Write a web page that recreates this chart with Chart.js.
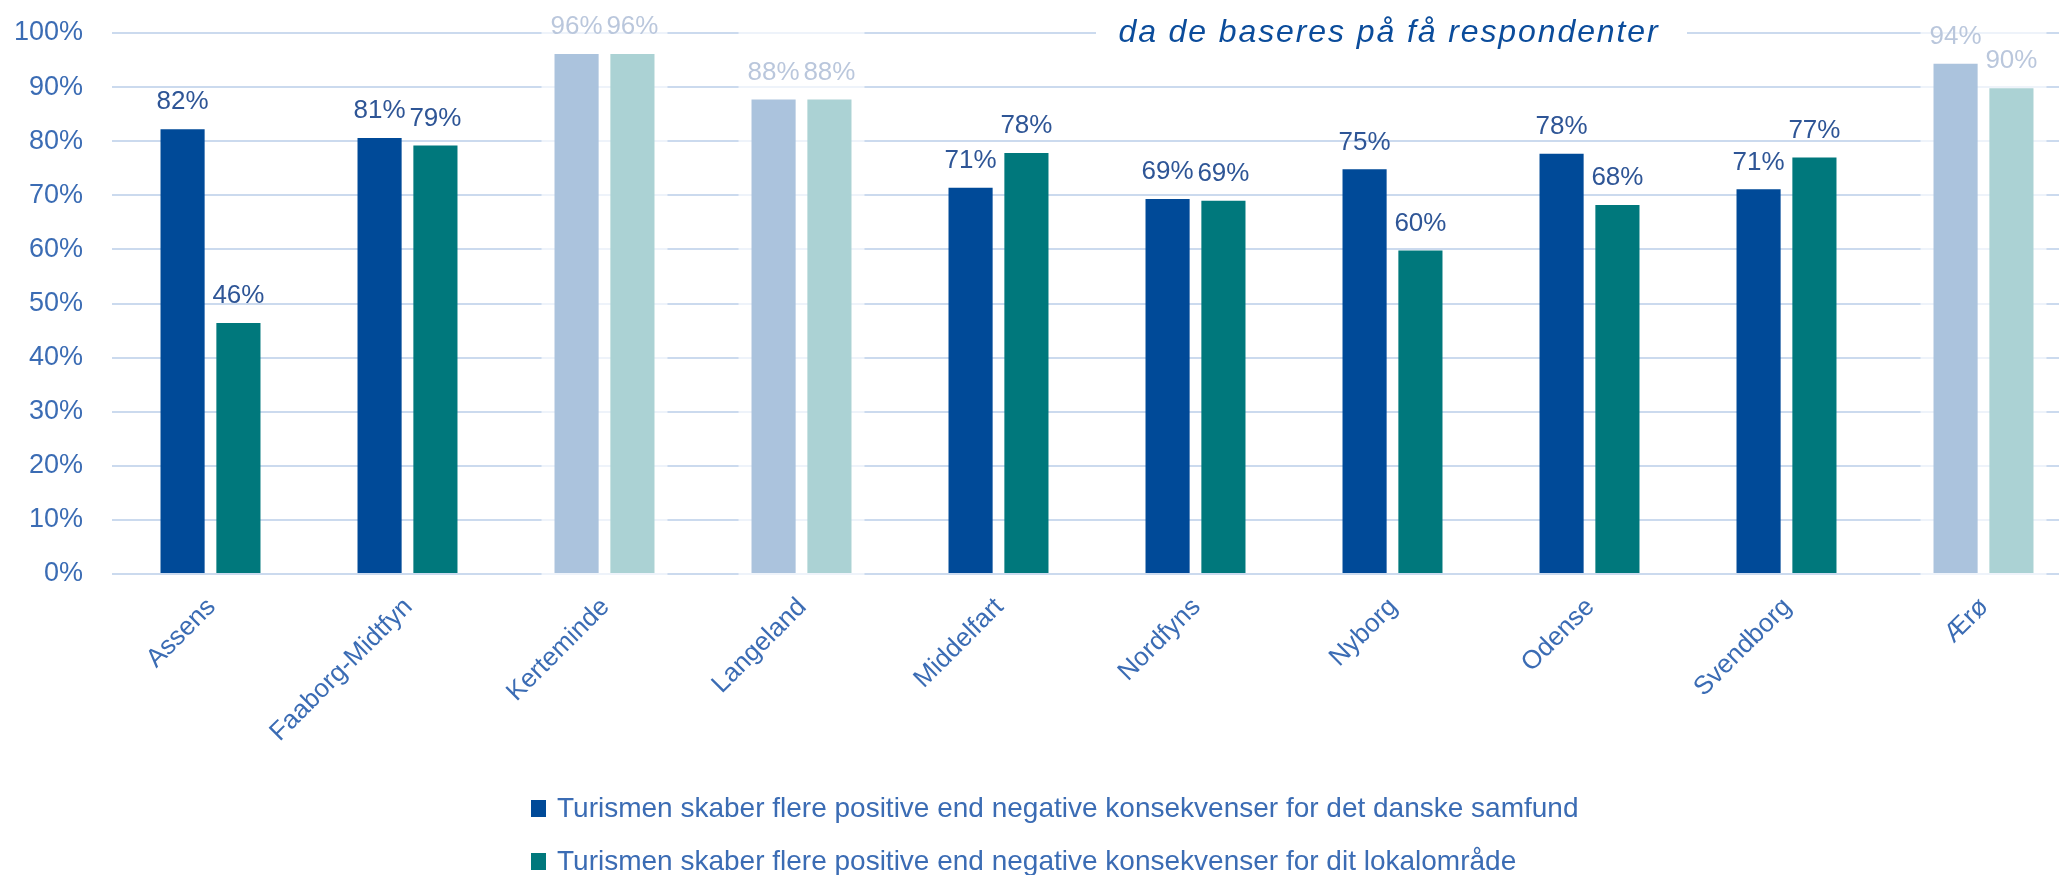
<!DOCTYPE html>
<html>
<head>
<meta charset="utf-8">
<script src="https://cdn.jsdelivr.net/npm/chart.js@4/dist/chart.umd.min.js"></script>
<style>
  html, body { margin: 0; padding: 0; background: #ffffff; overflow: hidden; }
  #wrap { position: relative; width: 2082px; height: 875px; }
</style>
</head>
<body>
<div id="wrap"><canvas id="c"></canvas></div>
<script>
// ---- data ----
const categories = ['Assens', 'Faaborg-Midtfyn', 'Kerteminde', 'Langeland', 'Middelfart', 'Nordfyns', 'Nyborg', 'Odense', 'Svendborg', 'Ærø'];
const seriesNames = [
  'Turismen skaber flere positive end negative konsekvenser for det danske samfund',
  'Turismen skaber flere positive end negative konsekvenser for dit lokalområde'
];
const danskeSamfund = [82.2, 80.6, 96.1, 87.7, 71.4, 69.3, 74.8, 77.7, 71.1, 94.3];
const lokalomraade  = [46.4, 79.2, 96.1, 87.7, 77.8, 69.0, 59.8, 68.2, 77.0, 89.8];
const fadedCategories = ['Kerteminde', 'Langeland', 'Ærø'];
const yTicks = [0, 10, 20, 30, 40, 50, 60, 70, 80, 90, 100];
const noteText = 'da de baseres på få respondenter';

const AXIS_BLUE = '#3b6cb4';
const LABEL_BLUE = '#2e5596';
const FONT = "'Liberation Sans', Arial, sans-serif";

const annotate = {
  id: 'annotate',
  afterDatasetsDraw(chart) {
    const ctx = chart.ctx;
    const area = chart.chartArea;
    // value labels
    ctx.save();
    ctx.font = '26px ' + FONT;
    ctx.fillStyle = LABEL_BLUE;
    ctx.textAlign = 'center';
    ctx.textBaseline = 'middle';
    chart.data.datasets.forEach((ds, i) => {
      chart.getDatasetMeta(i).data.forEach((bar, j) => {
        ctx.fillText(Math.round(ds.data[j]) + '%', bar.x, bar.y - 27);
      });
    });
    ctx.restore();
    // fading overlay for groups with few respondents
    const xs = chart.scales.x;
    ctx.save();
    ctx.fillStyle = 'rgba(255,255,255,0.67)';
    fadedCategories.forEach(name => {
      const idx = categories.indexOf(name);
      const cx = xs.getPixelForValue(idx);
      ctx.fillRect(cx - 63, 0, 126, area.bottom + 4);
    });
    ctx.restore();
    // note box
    ctx.save();
    ctx.fillStyle = '#ffffff';
    ctx.fillRect(1096, 0, 591, 52);
    ctx.font = 'italic 32px ' + FONT;
    ctx.fillStyle = '#0b4c9b';
    ctx.textAlign = 'center';
    ctx.textBaseline = 'alphabetic';
    try { ctx.letterSpacing = '1.9px'; } catch (e) {}
    ctx.fillText(noteText, 1389, 42);
    ctx.restore();
  },
  afterDraw(chart) {
    const ctx = chart.ctx;
    ctx.save();
    ctx.font = '28px ' + FONT;
    ctx.textBaseline = 'middle';
    ctx.textAlign = 'left';
    const rows = [808, 861];
    chart.data.datasets.forEach((ds, i) => {
      ctx.fillStyle = ds.backgroundColor;
      ctx.fillRect(531, rows[i] - 8, 15, 17);
      ctx.fillStyle = AXIS_BLUE;
      ctx.fillText(ds.label, 557, rows[i] + 1);
    });
    ctx.restore();
  }
};

new Chart(document.getElementById('c'), {
  type: 'bar',
  data: {
    labels: categories,
    datasets: [
      { label: seriesNames[0], data: danskeSamfund, backgroundColor: '#004a98' },
      { label: seriesNames[1], data: lokalomraade, backgroundColor: '#00787c' }
    ]
  },
  options: {
    responsive: true,
    maintainAspectRatio: false,
    animation: false,
    events: [],
    categoryPercentage: 0.567,
    barPercentage: 0.79,
    layout: { padding: { top: 33, left: 0, right: 0, bottom: 0 } },
    plugins: { legend: { display: false }, tooltip: { enabled: false }, title: { display: false } },
    scales: {
      x: {
        grid: { display: false, drawTicks: false },
        border: { display: false },
        ticks: {
          color: AXIS_BLUE,
          font: { family: FONT, size: 26 },
          minRotation: 45, maxRotation: 45,
          padding: 18,
          labelOffset: 1,
          autoSkip: false
        },
        afterFit(scale) { scale.height = 301; }
      },
      y: {
        min: 0, max: 100,
        afterBuildTicks(scale) { scale.ticks = yTicks.map(v => ({ value: v })); },
        grid: { color: '#cbdaee', lineWidth: 2, drawTicks: true, tickLength: 29, tickColor: 'rgba(0,0,0,0)' },
        border: { display: false },
        ticks: {
          color: AXIS_BLUE,
          font: { family: FONT, size: 27 },
          padding: 0,
          callback: v => v + '%'
        },
        afterFit(scale) { scale.width = 112; }
      }
    }
  },
  plugins: [annotate]
});
</script>
</body>
</html>
